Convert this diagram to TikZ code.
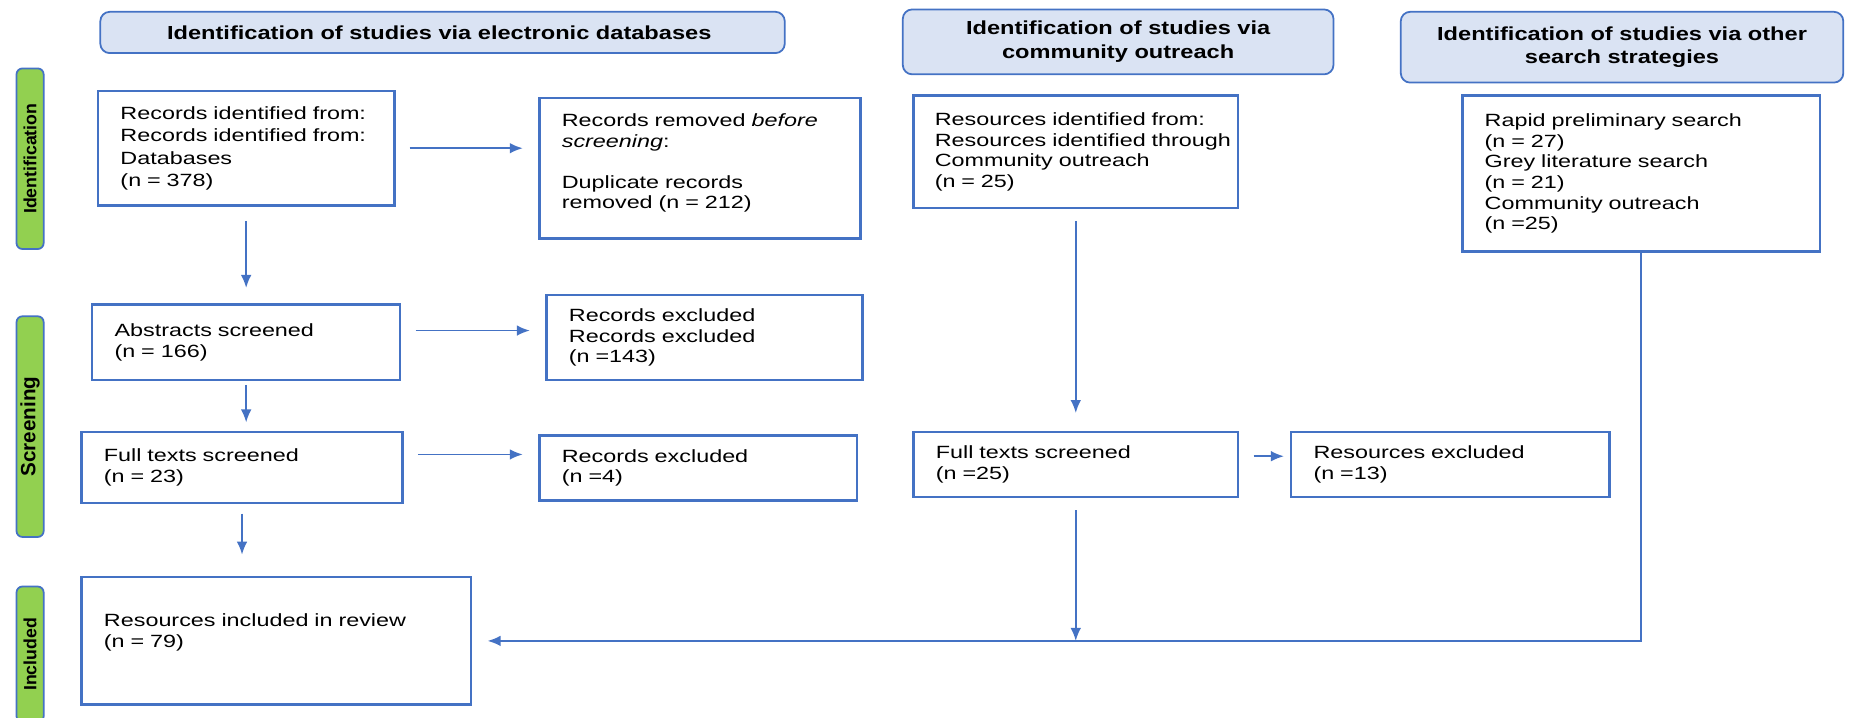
\documentclass[tikz,border=0pt]{standalone}
\usepackage{fontspec}
\setmainfont{Liberation Sans}
\newfontfamily\boxface[FakeStretch=1.32]{Liberation Sans}
\newfontfamily\headface[FakeStretch=1.25]{Liberation Sans}
\usetikzlibrary{arrows.meta}

\definecolor{lineblue}{HTML}{4472C4}
\definecolor{headblue}{HTML}{DAE3F3}
\definecolor{phasegreen}{HTML}{92D050}

\tikzset{
  head/.style={draw=lineblue, fill=headblue, line width=1.5pt, rounded corners=8pt, align=center, inner sep=0pt, font=\fontsize{16}{20}\selectfont\headface\bfseries},
  phase/.style={draw=lineblue, fill=phasegreen, line width=1.5pt, rounded corners=5pt, rotate=90, minimum height=23pt, inner sep=0pt, font=\fontsize{15}{15}\selectfont\bfseries},
  box/.style={draw=lineblue, line width=2.2pt, fill=white, anchor=north west, align=left, inner xsep=19pt, inner ysep=0pt, font=\fontsize{15}{17.5}\selectfont\boxface},
  flow/.style={->, draw=lineblue, line width=1.5pt, shorten <=12pt, shorten >=13pt}
}

\begin{document}
\begin{tikzpicture}[x=1pt, y=-1pt, every path/.style={>={Latex[length=11pt,width=9pt]}}]
\useasboundingbox (0,0) rectangle (1577,608);
% column heads
\node[head, minimum width=580pt, minimum height=35pt] (hdb) at (375,27.5)   { Identification of studies via electronic databases };
\node[head, minimum width=365pt, minimum height=55pt] (hco) at (947.5,35.5) { Identification of studies via\\community outreach };
\node[head, minimum width=375pt, minimum height=60pt] (hot) at (1374.5,40)  { Identification of studies via other\\search strategies };
% phases
\node[phase, minimum width=153pt]                   (pid) at (25.5,134.5) { Identification };
\node[phase, minimum width=187pt, font=\fontsize{17.5}{17.5}\selectfont\bfseries] (psc) at (25.5,361.5) { Screening };
\node[phase, minimum width=115pt]                   (pin) at (25.5,554.5) { Included };
% identification
\node[box, text width=213pt, minimum height=97pt]  (rec)  at (82,76)    { Records identified from:\\[1.5pt]Records identified from:\\[1.5pt]Databases\\[1.5pt](n = 378) };
\node[box, text width=234pt, minimum height=119pt] (rem)  at (456,82)   { Records removed \emph{before}\\\emph{screening}:\\[17pt]Duplicate records\\removed (n = 212)\\[-6pt]\mbox{} };
\node[box, text width=239pt, minimum height=95pt, inner xsep=18pt] (com) at (773,80) { Resources identified from:\\\mbox{Resources identified through}\\Community outreach\\(n = 25) };
\node[box, text width=265pt, minimum height=132pt] (oth)  at (1238,80)  { Rapid preliminary search\\(n = 27)\\Grey literature search\\(n = 21)\\Community outreach\\(n =25) };
% screening
\node[box, text width=223pt, minimum height=64pt]  (abs)  at (77,257)   { Abstracts screened\\(n = 166) };
\node[box, text width=230pt, minimum height=72pt]  (exc1) at (462,249)  { Records excluded\\Records excluded\\(n =143) };
\node[box, text width=234pt, minimum height=60pt]  (ft1)  at (68,365)   { Full texts screened\\(n = 23) };
\node[box, text width=231pt, minimum height=55pt]  (exc2) at (456,368)  { Records excluded\\(n =4) };
\node[box, text width=237pt, minimum height=55pt]  (ft2)  at (773,365)  { Full texts screened\\(n =25) };
\node[box, text width=232pt, minimum height=55pt]  (exc3) at (1093,365) { Resources excluded\\(n =13) };
% included
\node[box, text width=292pt, minimum height=108pt] (inc)  at (68,488)   { Resources included in review\\(n = 79)\\[0pt]\mbox{} };
% connectors
\draw[flow]                                 (rec.east) -- (rec.east -| rem.west);
\draw[flow]                                 (rec.south) -- (rec.south |- abs.north);
\draw[flow]                                 ([yshift=10pt]abs.east) -- ([yshift=10pt]abs.east -| exc1.west);
\draw[flow, shorten <=3pt, shorten >=7pt]   (abs.south) -- (abs.south |- ft1.north);
\draw[flow]                                 ([yshift=11pt]ft1.east) -- ([yshift=11pt]ft1.east -| exc2.west);
\draw[flow, shorten <=8pt, shorten >=18pt]  (ft1.south) -- (ft1.south |- inc.north);
\draw[flow, shorten <=10pt, shorten >=15pt] (com.south) -- (com.south |- ft2.north);
\draw[flow, shorten >=5pt]                  ([yshift=7pt]ft2.east) -- ([yshift=7pt]ft2.east -| exc3.west);
\draw[flow, shorten <=10pt, shorten >=0pt]  (ft2.south) -- (ft2.south |- inc.east);
\draw[flow, shorten <=0pt]                  (oth.south) |- (inc.east);
\end{tikzpicture}
\end{document}
